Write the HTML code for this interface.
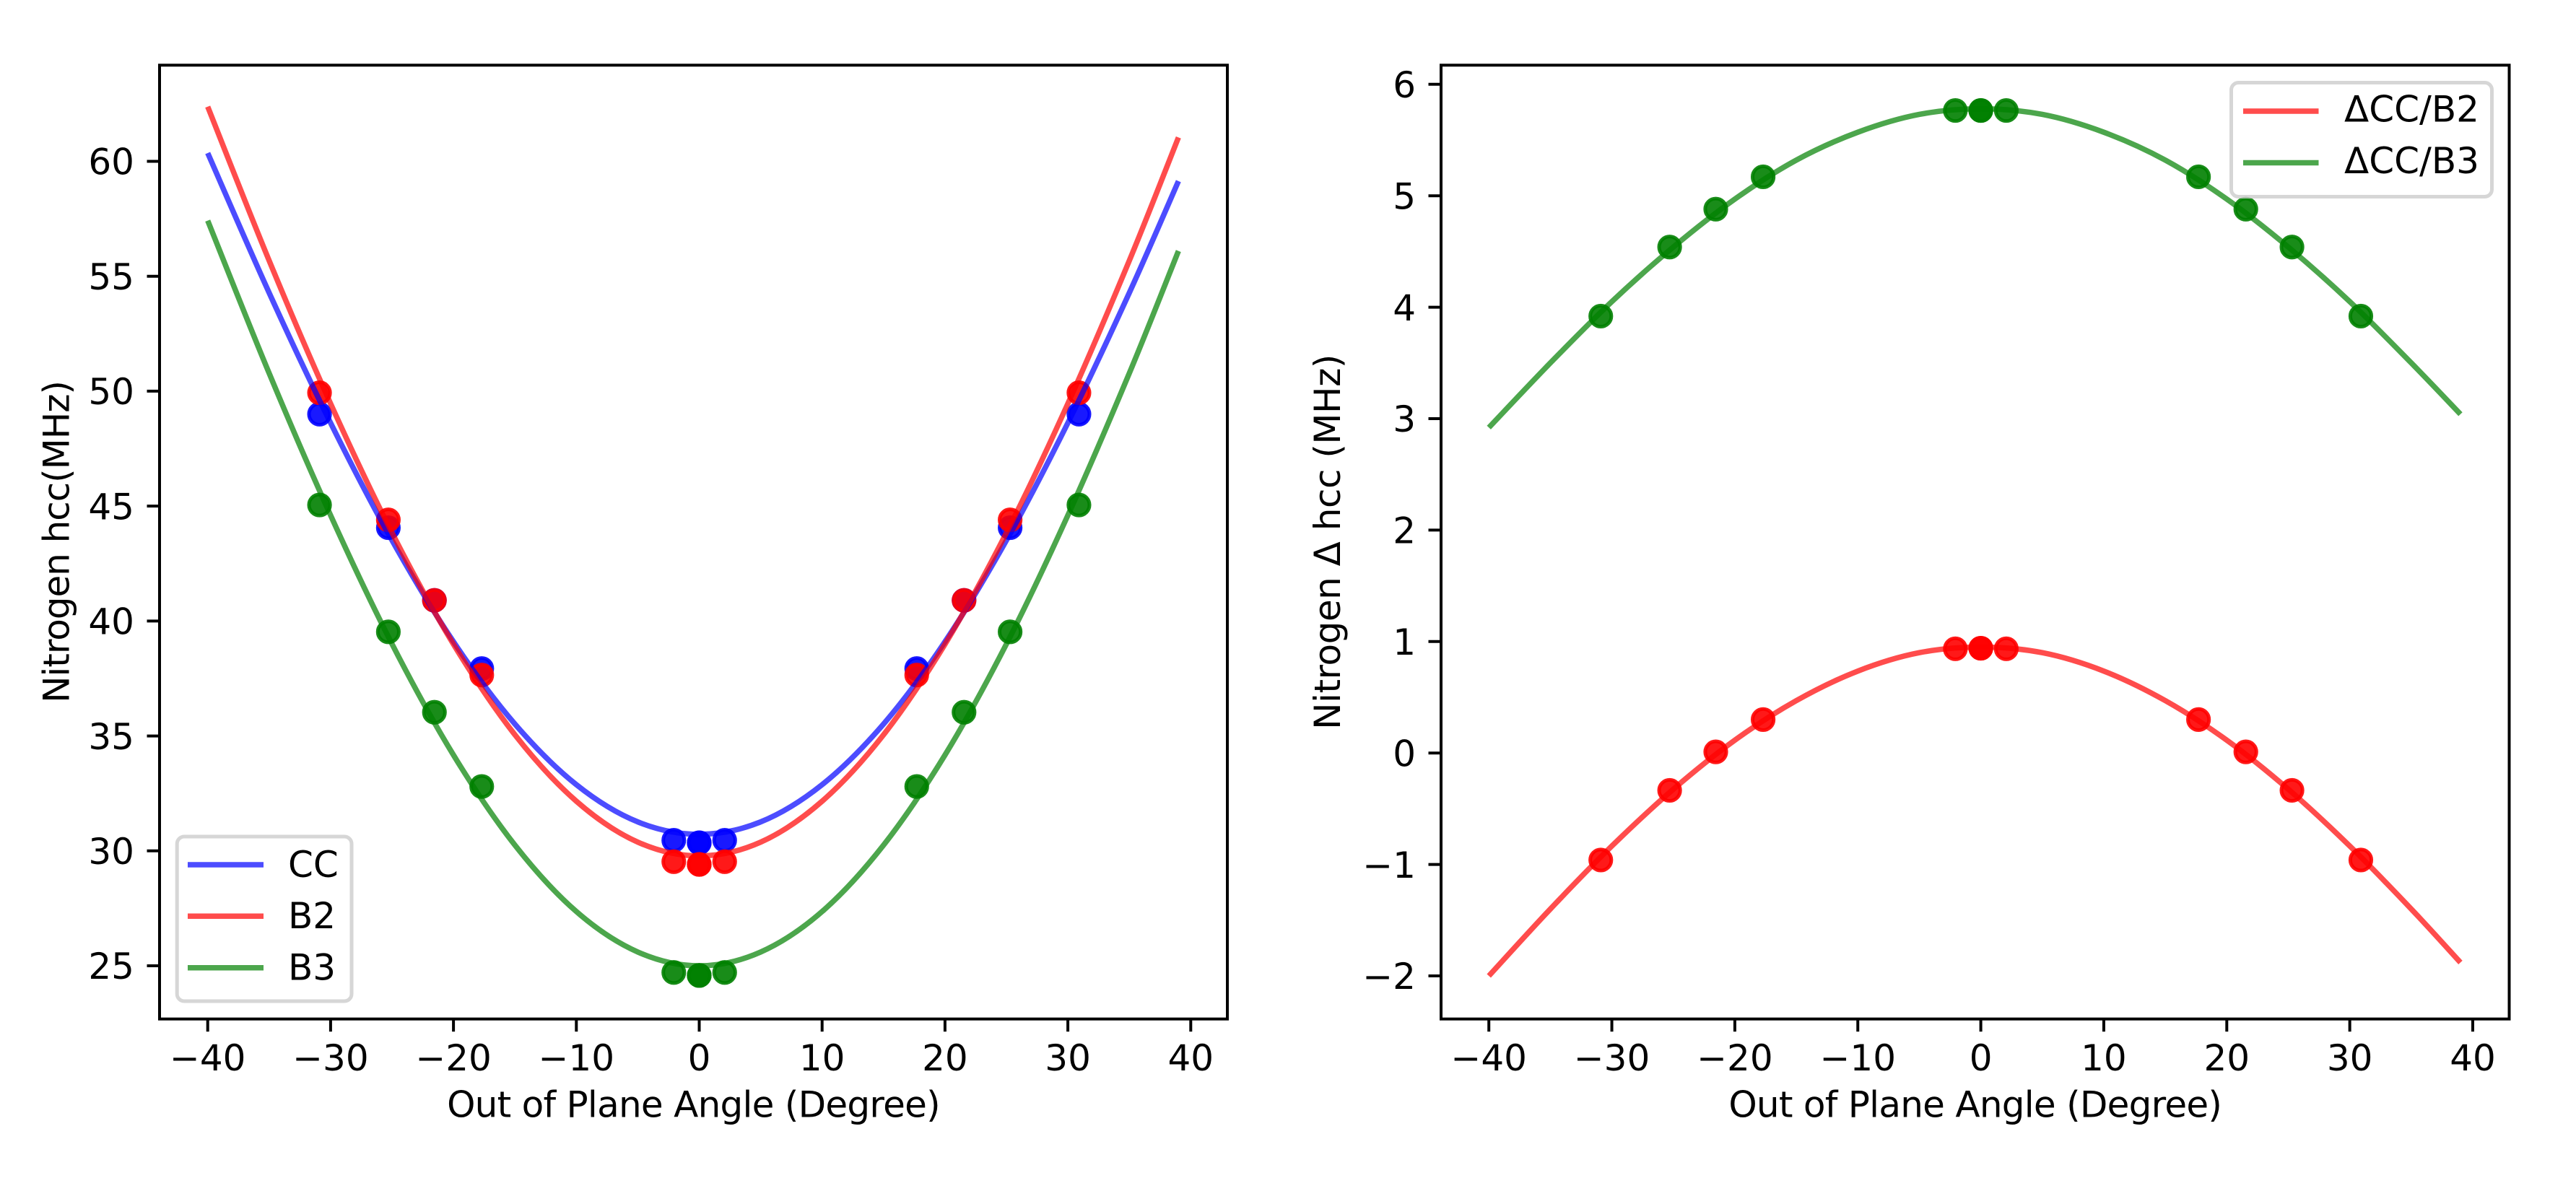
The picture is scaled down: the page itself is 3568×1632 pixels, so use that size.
<!DOCTYPE html>
<html>
<head>
<meta charset="utf-8">
<title>Nitrogen hcc vs Out of Plane Angle</title>
<style>
html,body{margin:0;padding:0;background:#fff;width:3568px;height:1632px;overflow:hidden}
svg{display:block}
text{font-family:"DejaVu Sans","Liberation Sans",sans-serif;font-size:50px;fill:#000}
</style>
</head>
<body>
<svg id="figure" xmlns="http://www.w3.org/2000/svg" width="3568" height="1632" viewBox="0 0 3568 1632">
<rect width="3568" height="1632" fill="#fff"/>
<g id="left-chart"></g>
<g id="right-chart"></g>
</svg>
<script>
// Shared angle samples for points and fitted curves
const markerAngles = [-30.9,-25.3,-21.55,-17.7,-2.07,0,0,2.07,17.7,21.55,25.3,30.9];
const leftCurveAngles = [-40,-35,-30,-25,-20,-15,-10,-5,0,5,10,15,20,25,30,35,39];
const rightCurveAngles = [-40,-35,-30,-25,-20,-15,-10,-5,0,5,10,15,20,25,30,35,39];

// Left chart series
const ccPoints = [49.0,44.06,40.9,37.93,30.46,30.35,30.35,30.46,37.93,40.9,44.06,49.0];
const b2Points = [49.93,44.4,40.9,37.65,29.53,29.41,29.41,29.53,37.65,40.9,44.4,49.93];
const b3Points = [45.05,39.53,36.03,32.8,24.71,24.58,24.58,24.71,32.8,36.03,39.53,45.05];
const ccCurve = [60.36,54.28,48.62,43.51,39.1,35.52,32.88,31.26,30.72,31.26,32.88,35.52,39.1,43.51,48.62,54.28,59.14];
const b2Curve = [62.38,55.68,49.46,43.84,38.99,35.05,32.16,30.38,29.78,30.38,32.16,35.05,38.99,43.84,49.46,55.68,61.04];
const b3Curve = [57.42,50.78,44.6,39.0,34.17,30.25,27.36,25.6,25.0,25.6,27.36,30.25,34.17,39.0,44.6,50.78,56.1];

// Right chart series
const deltaB2Points = [-0.96,-0.335,0.01,0.3,0.935,0.94,0.94,0.935,0.3,0.01,-0.335,-0.96];
const deltaB3Points = [3.92,4.54,4.88,5.17,5.765,5.765,5.765,5.765,5.17,4.88,4.54,3.92];
const deltaB2Curve = [-2.0,-1.4,-0.835,-0.325,0.115,0.47,0.735,0.9,0.95,0.9,0.735,0.47,0.115,-0.325,-0.835,-1.4,-1.88];
const deltaB3Curve = [2.92,3.5,4.05,4.54,4.97,5.32,5.57,5.73,5.78,5.73,5.57,5.32,4.97,4.54,4.05,3.5,3.04];

// Tick labels
const xTicks = [-40,-30,-20,-10,0,10,20,30,40];
const leftYTicks = [25,30,35,40,45,50,55,60];
const rightYTicks = [-2,-1,0,1,2,3,4,5,6];

const NS = 'http://www.w3.org/2000/svg';
function linear(d0,d1,r0,r1){ return function(v){ return r0+(v-d0)*(r1-r0)/(d1-d0); }; }
function make(parent,tag,attrs,text){
  const el=document.createElementNS(NS,tag);
  for(const k in attrs){ el.setAttribute(k,attrs[k]); }
  if(text!==undefined){ el.textContent=text; }
  parent.appendChild(el);
  return el;
}
function fmt(v){ return v<0 ? '\u2212'+Math.abs(v) : String(v); }
function curvePath(xs,ys,sx,sy){
  const p=xs.map(function(x,i){ return [sx(x),sy(ys[i])]; });
  let d='M'+p[0][0].toFixed(2)+' '+p[0][1].toFixed(2);
  for(let i=0;i<p.length-1;i++){
    const a=p[Math.max(i-1,0)],b=p[i],c=p[i+1],e=p[Math.min(i+2,p.length-1)];
    const c1x=b[0]+(c[0]-a[0])/6,c1y=b[1]+(c[1]-a[1])/6;
    const c2x=c[0]-(e[0]-b[0])/6,c2y=c[1]-(e[1]-b[1])/6;
    d+=' C'+c1x.toFixed(2)+' '+c1y.toFixed(2)+' '+c2x.toFixed(2)+' '+c2y.toFixed(2)+' '+c[0].toFixed(2)+' '+c[1].toFixed(2);
  }
  return d;
}
function drawAxes(g,box,sx,sy,yTicks,xTitle,yTitle,yTitleX,ySpacing){
  for(const t of xTicks){
    const x=sx(t);
    const tick=make(g,'line',{x1:x,x2:x,y1:box.b,y2:box.b+17.5,stroke:'#000','stroke-width':4});
    
    
    const lab=make(g,'text',{x:x,y:box.b+71.2,'text-anchor':'middle'},fmt(t));
    
    
  }
  for(const t of yTicks){
    const y=sy(t);
    const tick=make(g,'line',{x1:box.l-17.5,x2:box.l,y1:y,y2:y,stroke:'#000','stroke-width':4});
    
    
    const lab=make(g,'text',{x:box.l-35,y:y+18.2,'text-anchor':'end'},fmt(t));
    
    
  }
  const xt=make(g,'text',{x:(box.l+box.r)/2,y:box.b+136,'text-anchor':'middle','letter-spacing':'-0.74px'},xTitle);
  
  
  const cy=(box.t+box.b)/2;
  const yt=make(g,'text',{x:yTitleX,y:cy,'text-anchor':'middle','letter-spacing':ySpacing+'px',transform:'rotate(-90 '+yTitleX+' '+cy+')'},yTitle);
  
  
}
function drawFrame(g,box){
  const f=make(g,'rect',{x:box.l,y:box.t,width:box.r-box.l,height:box.b-box.t,fill:'none',stroke:'#000','stroke-width':4,'stroke-linejoin':'miter'});
  
  
}
function drawPoints(g,xs,ys,sx,sy,color){
  xs.forEach(function(x,i){
    const c=make(g,'circle',{cx:sx(x),cy:sy(ys[i]),r:14.6,fill:color,'fill-opacity':0.9,stroke:color,'stroke-opacity':0.9,'stroke-width':5});
    
    
  });
}
function drawCurve(g,xs,ys,sx,sy,color){
  const p=make(g,'path',{d:curvePath(xs,ys,sx,sy),fill:'none',stroke:color,'stroke-opacity':0.7,'stroke-width':7.5,'stroke-linejoin':'round'});
  
  
}
function drawLegend(g,rect,x0,x1,tx,entries){
  const lg=make(g,'g',{});
  
  
  const bg=make(lg,'rect',{x:rect.x,y:rect.y,width:rect.w,height:rect.h,rx:10,ry:10,fill:'#fff','fill-opacity':0.8,stroke:'#ccc','stroke-opacity':0.8,'stroke-width':5});
  
  
  for(const e of entries){
    const l=make(lg,'line',{x1:x0,x2:x1,y1:e.y,y2:e.y,stroke:e.color,'stroke-opacity':0.7,'stroke-width':7.5});
    
    
    const t=make(lg,'text',{x:tx,y:e.base},e.label);
    
    
  }
}

// Left chart
(function(){
  const g=document.getElementById('left-chart');
  const box={l:221,r:1700,t:90.3,b:1411.7};
  const sx=linear(0,40,968.5,968.5+17.02*40);
  const sy=linear(25,60,1338,223.5);
  drawAxes(g,box,sx,sy,leftYTicks,'Out of Plane Angle (Degree)','Nitrogen hcc(MHz)',95.5,-1.05);
  drawPoints(g,markerAngles,ccPoints,sx,sy,'#0000ff');
  drawPoints(g,markerAngles,b2Points,sx,sy,'#ff0000');
  drawPoints(g,markerAngles,b3Points,sx,sy,'#008000');
  drawCurve(g,leftCurveAngles,ccCurve,sx,sy,'#0000ff');
  drawCurve(g,leftCurveAngles,b2Curve,sx,sy,'#ff0000');
  drawCurve(g,leftCurveAngles,b3Curve,sx,sy,'#008000');
  drawFrame(g,box);
  drawLegend(g,{x:245.2,y:1159,w:241.8,h:228},260,365,399,[
    {label:'CC',color:'#0000ff',y:1198,base:1215},
    {label:'B2',color:'#ff0000',y:1269.3,base:1286},
    {label:'B3',color:'#008000',y:1340.7,base:1357.5}
  ]);
})();

// Right chart
(function(){
  const g=document.getElementById('right-chart');
  const box={l:1996,r:3475.5,t:90.3,b:1411.7};
  const sx=linear(0,40,2743.6,3425);
  const sy=linear(6,-2,116.8,1352);
  drawAxes(g,box,sx,sy,rightYTicks,'Out of Plane Angle (Degree)','Nitrogen \u0394 hcc (MHz)',1856,-0.5);
  drawPoints(g,markerAngles,deltaB2Points,sx,sy,'#ff0000');
  drawPoints(g,markerAngles,deltaB3Points,sx,sy,'#008000');
  drawCurve(g,rightCurveAngles,deltaB2Curve,sx,sy,'#ff0000');
  drawCurve(g,rightCurveAngles,deltaB3Curve,sx,sy,'#008000');
  drawFrame(g,box);
  drawLegend(g,{x:3090.5,y:114.5,w:361,h:158},3107,3211.5,3247,[
    {label:'\u0394CC/B2',color:'#ff0000',y:154,base:168.5},
    {label:'\u0394CC/B3',color:'#008000',y:225.5,base:240}
  ]);
})();
</script>
</body>
</html>
